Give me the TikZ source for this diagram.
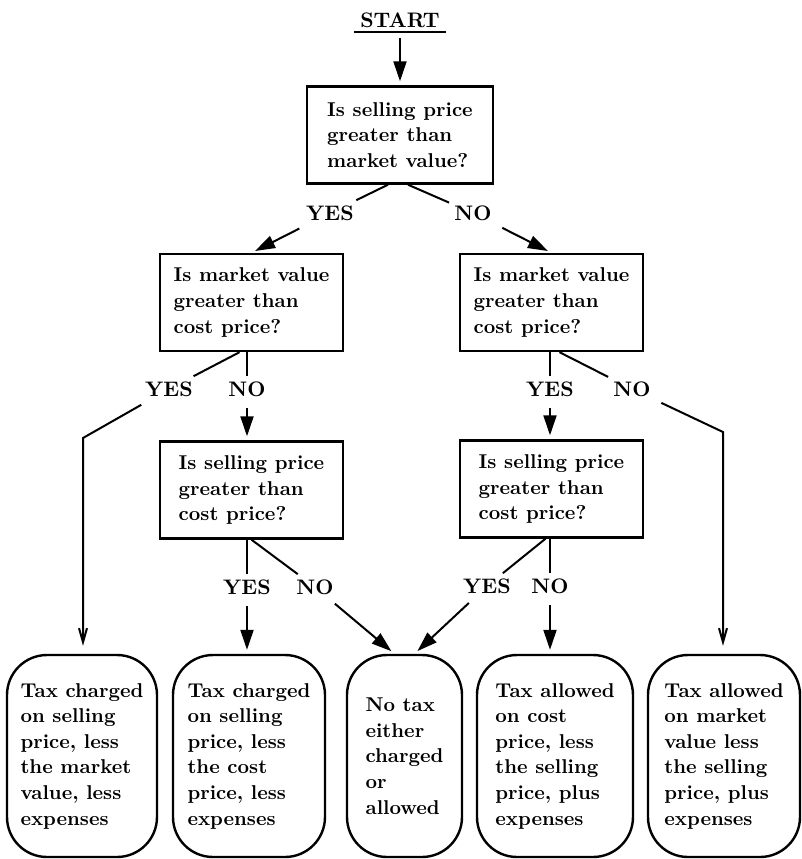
\documentclass[tikz,border=0pt]{standalone}
\usetikzlibrary{arrows.meta}
\begin{document}
\begin{tikzpicture}[x=0.5pt,y=-0.5pt,
  txt/.style={font=\fontsize{10}{12.8}\selectfont\bfseries},
  question/.style={txt,draw,line width=1.2pt,align=left,minimum width=#1,minimum height=48.5pt,inner sep=0pt},
  outcome/.style={txt,draw,line width=1.2pt,align=left,rounded corners=20pt,minimum width=#1,minimum height=101pt,inner sep=0pt},
  answer/.style={font=\fontsize{10.5}{12}\selectfont\bfseries,inner sep=2.5pt},
  link/.style={line width=1pt},
  arrow/.style={link,-{Triangle[length=10pt,width=6.5pt]},shorten >=2pt,shorten <=3pt},
  barb/.style={link,-{Straight Barb[length=7pt,width=4pt]},shorten >=4pt,shorten <=3pt}]
\useasboundingbox (0,0) rectangle (802,859);
% questions
\node (start) [answer,inner xsep=3pt,inner ysep=2pt] at (400,20) {START};
\draw[link] (start.south west) -- (start.south east);
\node (q1) [question=93pt] at (400,135) {Is selling price\\greater than\\market value?};
\node (q2L) [question=91.5pt] at (251.5,302.5) {Is market value\\greater than\\cost price?};
\node (q2R) [question=91.5pt] at (551.5,302.5) {Is market value\\greater than\\cost price?};
\node (q3L) [question=91.5pt] at (251.5,490) {Is selling price\\greater than\\cost price?};
\node (q3R) [question=91.5pt] at (551.5,489) {Is selling price\\greater than\\cost price?};
% outcomes
\node (A) [outcome=75pt] at (82,756) {Tax charged\\on selling\\price, less\\the market\\value, less\\expenses};
\node (B) [outcome=76pt] at (249,756) {Tax charged\\on selling\\price, less\\the cost\\price, less\\expenses};
\node (C) [outcome=57.5pt] at (404.5,756) {No tax\\either\\charged\\or\\allowed};
\node (D) [outcome=78pt] at (555,756) {Tax allowed\\on cost\\price, less\\the selling\\price, plus\\expenses};
\node (E) [outcome=76pt] at (724,756) {Tax allowed\\on market\\value less\\the selling\\price, plus\\expenses};
% answers
\node (q1yes) [answer] at (330,213) {YES};
\node (q1no) [answer] at (473,213) {NO};
\node (q2Lyes) [answer] at (169,389) {YES};
\node (q2Lno) [answer] at (247,389) {NO};
\node (q2Ryes) [answer] at (550,389) {YES};
\node (q2Rno) [answer] at (632,389) {NO};
\node (q3Lyes) [answer] at (247,587) {YES};
\node (q3Lno) [answer] at (315,587) {NO};
\node (q3Ryes) [answer] at (487,586) {YES};
\node (q3Rno) [answer] at (550,586) {NO};
\coordinate (bendA) at (83,438);
\coordinate (bendE) at (723,432);
% connectors
\draw[arrow] (start.south) -- (q1.north);
\draw[link] ([xshift=-6pt]q1.south) -- (q1yes);
\draw[arrow] (q1yes) -- (q2L.north);
\draw[link] ([xshift=4pt]q1.south) -- (q1no);
\draw[arrow] (q1no) -- (q2R.north);
\draw[link] ([xshift=-6pt]q2L.south) -- (q2Lyes);
\draw[barb] (q2Lyes) -- (bendA) -- (bendA |- A.north);
\draw[link] (q2Lno |- q2L.south) -- (q2Lno);
\draw[arrow] (q2Lno) -- (q2Lno |- q3L.north);
\draw[link] (q2Ryes |- q2R.south) -- (q2Ryes);
\draw[arrow] (q2Ryes) -- (q2Ryes |- q3R.north);
\draw[link] ([xshift=4pt]q2R.south) -- (q2Rno);
\draw[barb] (q2Rno) -- (bendE) -- (bendE |- E.north);
\draw[link] (q3Lyes |- q3L.south) -- (q3Lyes);
\draw[arrow] (q3Lyes) -- (q3Lyes |- B.north);
\draw[link] (q3L.south) -- (q3Lno);
\draw[arrow] (q3Lno) -- ([xshift=-5pt]C.north);
\draw[link] ([xshift=-3pt]q3R.south) -- (q3Ryes);
\draw[arrow] (q3Ryes) -- ([xshift=5pt]C.north);
\draw[link] (q3Rno |- q3R.south) -- (q3Rno);
\draw[arrow] (q3Rno) -- (q3Rno |- D.north);
\end{tikzpicture}
\end{document}
